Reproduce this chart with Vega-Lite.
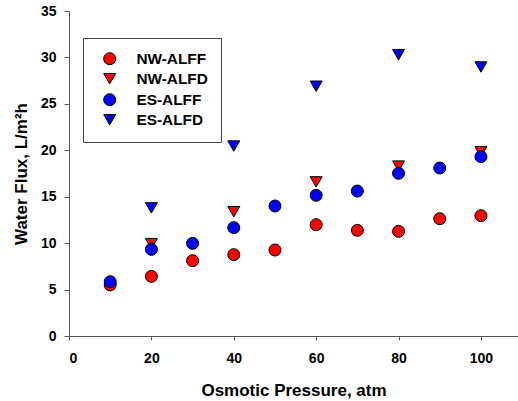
{
  "$schema": "https://vega.github.io/schema/vega-lite/v6.json",
  "width": 449,
  "height": 325,
  "autosize": {"type": "none"},
  "padding": {"left": 69, "top": 11, "right": 0, "bottom": 65},
  "background": "white",
  "config": {
    "view": {"stroke": null},
    "font": "Liberation Sans",
    "axis": {
      "grid": false,
      "domainColor": "#555555",
      "tickColor": "#555555",
      "labelFont": "Liberation Sans",
      "labelFontWeight": "bold",
      "labelFontSize": 14,
      "labelColor": "#000000",
      "titleFont": "Liberation Sans",
      "titleFontWeight": "bold",
      "titleFontSize": 17,
      "titleColor": "#000000"
    }
  },
  "datasets": {
    "flux": [
      {"series": "NW-ALFF", "pressure": 10, "flux": 5.5},
      {"series": "NW-ALFF", "pressure": 20, "flux": 6.42},
      {"series": "NW-ALFF", "pressure": 30, "flux": 8.11},
      {"series": "NW-ALFF", "pressure": 40, "flux": 8.76},
      {"series": "NW-ALFF", "pressure": 50, "flux": 9.26},
      {"series": "NW-ALFF", "pressure": 60, "flux": 11.99},
      {"series": "NW-ALFF", "pressure": 70, "flux": 11.38},
      {"series": "NW-ALFF", "pressure": 80, "flux": 11.27},
      {"series": "NW-ALFF", "pressure": 90, "flux": 12.63},
      {"series": "NW-ALFF", "pressure": 100, "flux": 12.96},
      {"series": "NW-ALFD", "pressure": 20, "flux": 9.95},
      {"series": "NW-ALFD", "pressure": 40, "flux": 13.39},
      {"series": "NW-ALFD", "pressure": 60, "flux": 16.6},
      {"series": "NW-ALFD", "pressure": 80, "flux": 18.3},
      {"series": "NW-ALFD", "pressure": 100, "flux": 19.85},
      {"series": "ES-ALFF", "pressure": 10, "flux": 5.85},
      {"series": "ES-ALFF", "pressure": 20, "flux": 9.33},
      {"series": "ES-ALFF", "pressure": 30, "flux": 9.98},
      {"series": "ES-ALFF", "pressure": 40, "flux": 11.67},
      {"series": "ES-ALFF", "pressure": 50, "flux": 14.0},
      {"series": "ES-ALFF", "pressure": 60, "flux": 15.15},
      {"series": "ES-ALFF", "pressure": 70, "flux": 15.61},
      {"series": "ES-ALFF", "pressure": 80, "flux": 17.52},
      {"series": "ES-ALFF", "pressure": 90, "flux": 18.09},
      {"series": "ES-ALFF", "pressure": 100, "flux": 19.31},
      {"series": "ES-ALFD", "pressure": 20, "flux": 13.8},
      {"series": "ES-ALFD", "pressure": 40, "flux": 20.46},
      {"series": "ES-ALFD", "pressure": 60, "flux": 26.9},
      {"series": "ES-ALFD", "pressure": 80, "flux": 30.3},
      {"series": "ES-ALFD", "pressure": 100, "flux": 28.97}
    ]
  },
  "layer": [
    {
      "mark": {"type": "rule", "color": "#555555", "strokeWidth": 1},
      "encoding": {"y": {"datum": 35, "type": "quantitative"}}
    },
    {
      "data": {"name": "flux"},
      "mark": {"type": "point", "filled": true, "size": 144, "opacity": 1, "stroke": "#000000", "strokeWidth": 1},
      "encoding": {
        "x": {
          "field": "pressure",
          "type": "quantitative",
          "scale": {"domain": [0, 109], "nice": false, "zero": true},
          "axis": {"values": [0, 20, 40, 60, 80, 100], "tickSize": 4, "labelPadding": 11, "title": "Osmotic Pressure, atm", "titlePadding": 17}
        },
        "y": {
          "field": "flux",
          "type": "quantitative",
          "scale": {"domain": [0, 35], "nice": false},
          "axis": {"values": [0, 5, 10, 15, 20, 25, 30, 35], "tickSize": 5, "labelPadding": 8, "title": "Water Flux, L/m²h", "titlePadding": 10}
        },
        "color": {
          "field": "series",
          "type": "nominal",
          "scale": {"domain": ["NW-ALFF", "NW-ALFD", "ES-ALFF", "ES-ALFD"], "range": ["#ff0000", "#ff0000", "#0000ff", "#0000ff"]},
          "legend": {
            "title": null,
            "orient": "none",
            "legendX": 14,
            "legendY": 27,
            "padding": 13,
            "strokeColor": "#444444",
            "fillColor": "white",
            "labelFont": "Liberation Sans",
            "labelFontWeight": "bold",
            "labelFontSize": 15.4,
            "labelColor": "#000000",
            "symbolSize": 144,
            "symbolStrokeColor": "#000000",
            "symbolStrokeWidth": 1,
            "symbolOffset": 6,
            "labelOffset": 19,
            "rowPadding": 3
          }
        },
        "shape": {
          "field": "series",
          "type": "nominal",
          "scale": {"domain": ["NW-ALFF", "NW-ALFD", "ES-ALFF", "ES-ALFD"], "range": ["circle", "triangle-down", "circle", "triangle-down"]}
        }
      }
    }
  ]
}
